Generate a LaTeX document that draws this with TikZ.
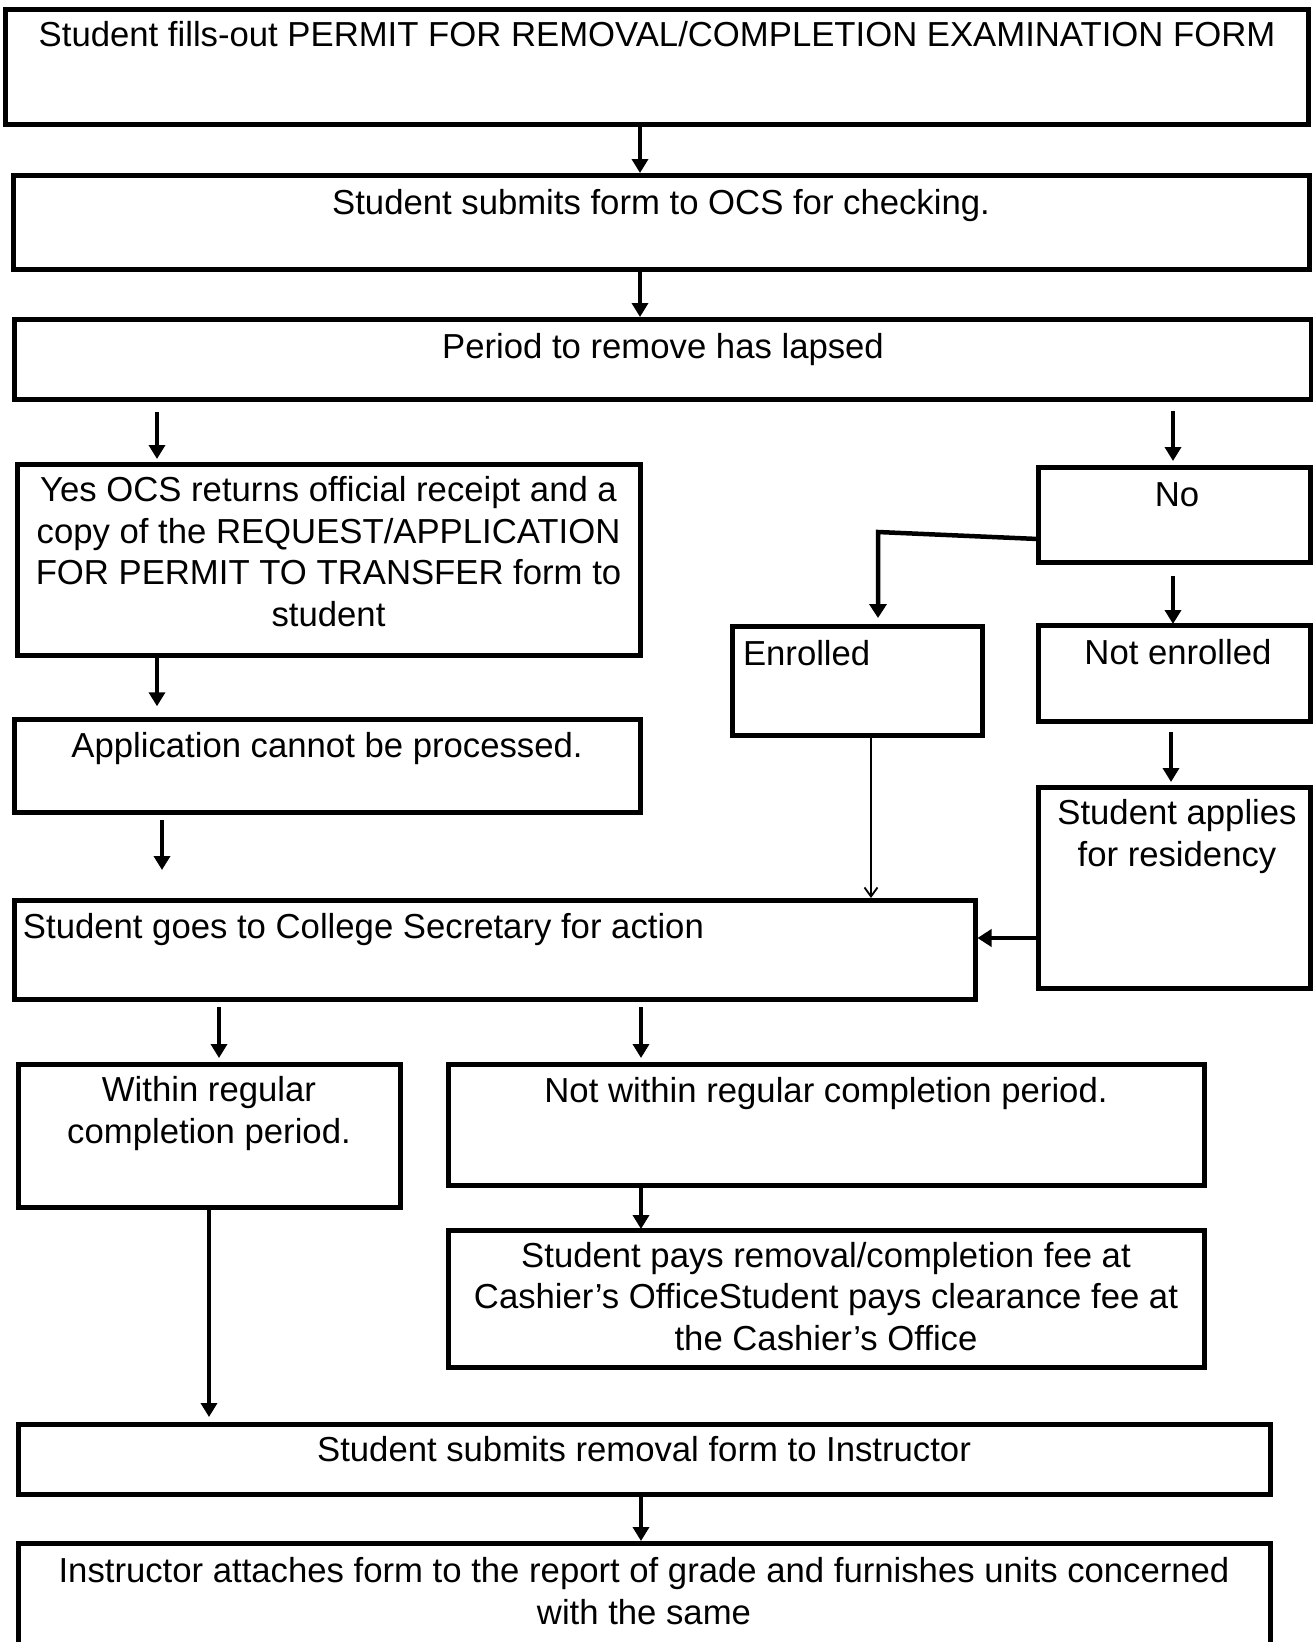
\documentclass[tikz,border=0pt]{standalone}
\usepackage{fontspec}
\setmainfont{Liberation Sans}
\usetikzlibrary{arrows.meta,calc}
\begin{document}
\begin{tikzpicture}[x=1pt,y=-1pt,
  box/.style={draw=black, line width=5pt, rectangle, inner sep=0pt, outer sep=0pt},
  txt/.style={font=\fontsize{34.7}{41.5}\selectfont, inner sep=0pt, outer sep=0pt, align=center, anchor=base},
  arr/.style={line width=3.5pt, -{Triangle[width=16pt,length=14pt]}},
  thickarr/.style={line width=4.5pt, -{Triangle[width=17pt,length=14pt]}},
  thinarr/.style={line width=1.8pt, -{Straight Barb[width=13pt,length=9pt,line width=1.8pt]}}]

\useasboundingbox (0,0) rectangle (1313,1642);

% boxes
\node[box, minimum width=1303pt, minimum height=115pt] (b1) at (657,67) {};
\node[box, minimum width=1296pt, minimum height=94pt] (b2) at (661.5,222.5) {};
\node[box, minimum width=1296.5pt, minimum height=80pt] (b3) at (662.75,359.5) {};
\node[box, minimum width=623pt, minimum height=191pt] (yes) at (328.5,559.5) {};
\node[box, minimum width=626pt, minimum height=93pt] (app) at (327,765.75) {};
\node[box, minimum width=961pt, minimum height=99pt] (col) at (494.5,949.5) {};
\node[box, minimum width=250pt, minimum height=109pt] (enr) at (857,680.5) {};
\node[box, minimum width=272pt, minimum height=95pt] (no) at (1174,514.5) {};
\node[box, minimum width=272pt, minimum height=96pt] (notenr) at (1174,673) {};
\node[box, minimum width=272pt, minimum height=201pt] (applies) at (1174,887.5) {};
\node[box, minimum width=382pt, minimum height=143pt] (within) at (209,1135.5) {};
\node[box, minimum width=756pt, minimum height=121pt] (notwithin) at (826,1124.5) {};
\node[box, minimum width=756pt, minimum height=137pt] (pays) at (826,1298.5) {};
\node[box, minimum width=1252pt, minimum height=70pt] (submits) at (644,1459) {};
\node[box, minimum width=1252pt, minimum height=107pt] (instr) at (644,1596.5) {};

% texts (multi-line texts are placed by the baseline of their last line)
\node[txt] (t1) at (657,46) {Student fills-out PERMIT FOR REMOVAL/COMPLETION EXAMINATION FORM};
\node[txt] (t2) at (661,214) {Student submits form to OCS for checking.};
\node[txt] (t3) at (663,358) {Period to remove has lapsed};
\node[txt] (t4) at (328.5,626) {Yes OCS returns official receipt and a\\copy of the REQUEST/APPLICATION\\FOR PERMIT TO TRANSFER form to\\student};
\node[txt] (t5) at (327,757) {Application cannot be processed.};
\node[txt, anchor=base west] (t6) at (23,938) {Student goes to College Secretary for action};
\node[txt, anchor=base west] (t7) at (743,665) {Enrolled};
\node[txt] (t8) at (1177,506) {No};
\node[txt] (t9) at (1178,664) {Not enrolled};
\node[txt] (t10) at (1177,866) {Student applies\\for residency};
\node[txt] (t11) at (209,1143) {Within regular\\completion period.};
\node[txt] (t12) at (826,1102) {Not within regular completion period.};
\node[txt] (t13) at (826,1350) {Student pays removal/completion fee at\\Cashier’s OfficeStudent pays clearance fee at\\the Cashier’s Office};
\node[txt] (t14) at (644,1461) {Student submits removal form to Instructor};
\node[txt] (t15) at (644,1624) {Instructor attaches form to the report of grade and furnishes units concerned\\with the same};

% connector columns and rows
\coordinate (x157) at (157,0);
\coordinate (x162) at (162,0);
\coordinate (x219) at (219,0);
\coordinate (x640) at (640,0);
\coordinate (x641) at (641,0);
\coordinate (x871) at (871,0);
\coordinate (x1171) at (1171,0);
\coordinate (x1173) at (1173,0);
\coordinate (y938) at (0,938);
\coordinate (kink) at (878,532);

% connectors
\draw[arr, shorten >=2.5pt] (b1.south -| x640) -- (b2.north -| x640);
\draw[arr, shorten >=2.5pt] (b2.south -| x640) -- (b3.north -| x640);
\draw[arr, shorten <=12.5pt, shorten >=5pt] (b3.south -| x157) -- (yes.north -| x157);
\draw[arr, shorten <=11.5pt, shorten >=6pt] (b3.south -| x1173) -- (no.north -| x1173);
\draw[arr, shorten >=13pt] (yes.south -| x157) -- (app.north -| x157);
\draw[arr, shorten <=8pt, shorten >=30pt] (app.south -| x162) -- (col.north -| x162);
\draw[thickarr, shorten >=8pt] ([yshift=-24.5pt]no.west) -- (kink) -- (kink |- enr.north);
\draw[arr, shorten <=14pt, shorten >=1pt] (no.south -| x1173) -- (notenr.north -| x1173);
\draw[arr, shorten <=11pt, shorten >=5pt] (notenr.south -| x1171) -- (applies.north -| x1171);
\draw[thinarr, shorten >=2pt] (enr.south -| x871) -- (col.north -| x871);
\draw[thickarr, shorten >=2.5pt] (applies.west |- y938) -- (col.east |- y938);
\draw[arr, shorten <=8pt, shorten >=6pt] (col.south -| x219) -- (within.north -| x219);
\draw[arr, shorten <=8pt, shorten >=6pt] (col.south -| x641) -- (notwithin.north -| x641);
\draw[arr, shorten >=1pt] (notwithin.south -| x641) -- (pays.north -| x641);
\draw[arr, shorten >=7pt] (within.south) -- (submits.north -| within.south);
\draw[arr, shorten >=2pt] (submits.south -| x641) -- (instr.north -| x641);
\end{tikzpicture}
\end{document}
